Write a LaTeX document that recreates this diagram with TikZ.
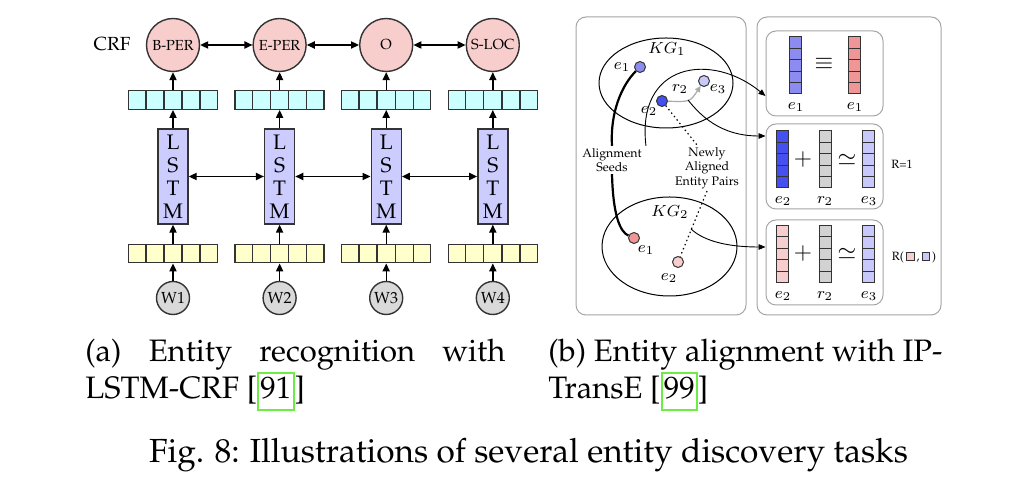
\documentclass[tikz,border=0pt]{standalone}
\usepackage[T1]{fontenc}
\renewcommand{\rmdefault}{ppl}
\usetikzlibrary{arrows.meta,calc,shapes.geometric}
\definecolor{crfpink}{RGB}{248,206,204}
\definecolor{hcyan}{RGB}{204,255,255}
\definecolor{lstmblue}{RGB}{204,204,255}
\definecolor{embyellow}{RGB}{255,255,204}
\definecolor{wgray}{RGB}{217,217,217}
\definecolor{edgegray}{RGB}{51,51,51}
\definecolor{panelgray}{RGB}{165,165,165}
\definecolor{eonebl}{RGB}{140,140,240}
\definecolor{etwobl}{RGB}{70,80,240}
\definecolor{ethreebl}{RGB}{200,200,250}
\definecolor{eonered}{RGB}{240,150,150}
\definecolor{etwopink}{RGB}{248,205,205}
\definecolor{relgray}{RGB}{210,210,210}
\definecolor{arrgray}{RGB}{170,170,170}
\definecolor{linkgreen}{RGB}{110,235,70}
\newcommand\hvec[4]{%
  \node[hvecst, fill=#4] (#1) at (#2,#3) {};
  \foreach \k in {1,...,4}{\draw[cellline] ($(#1.north west)!\k/5!(#1.north east)$) -- ($(#1.south west)!\k/5!(#1.south east)$);}
}
\newcommand\vvec[4]{%
  \node[vvecst, fill=#4] (#1) at (#2,#3) {};
  \foreach \k in {1,...,4}{\draw[vcell] ($(#1.north west)!\k/5!(#1.south west)$) -- ($(#1.north east)!\k/5!(#1.south east)$);}
}
\newcommand\linkbox[1]{{\setlength\fboxsep{0pt}\setlength\fboxrule{1pt}\fcolorbox{linkgreen}{white}{\hspace{0.6pt}\rule[-5pt]{0pt}{17.5pt}#1\hspace{0.6pt}}}}
\newcommand\minibox[1]{{\setlength\fboxsep{0pt}\setlength\fboxrule{0.4pt}\fcolorbox{edgegray}{#1}{\rule{0pt}{3.5pt}\hspace{3.5pt}}}}
\begin{document}
\begin{tikzpicture}[x=0.5pt,y=-0.5pt,
  crf/.style={circle, draw=edgegray, line width=0.7pt, fill=crfpink, minimum size=26.5pt, inner sep=0pt, font=\fontsize{7.3}{8}\selectfont},
  wnode/.style={circle, draw=edgegray, line width=0.7pt, fill=wgray, minimum size=16.5pt, inner sep=0pt, font=\fontsize{8}{9}\selectfont},
  lstm/.style={rectangle, draw=edgegray, line width=0.7pt, fill=lstmblue, minimum width=15pt, minimum height=47.5pt, inner sep=0pt, align=center, font=\fontsize{10.5}{11.5}\selectfont},
  hvecst/.style={rectangle, draw=edgegray, line width=0.7pt, minimum width=44.5pt, minimum height=9.25pt, inner sep=0pt},
  vvecst/.style={rectangle, draw=edgegray, line width=0.5pt, minimum width=6pt, minimum height=28.5pt, inner sep=0pt},
  cellline/.style={draw=edgegray, line width=0.7pt},
  vcell/.style={draw=edgegray, line width=0.5pt},
  arr/.style={-{Triangle[length=4pt,width=3.6pt]}, line width=0.7pt},
  dbl/.style={{Triangle[length=4pt,width=3.6pt]}-{Triangle[length=4pt,width=3.6pt]}, line width=0.7pt},
  panel/.style={rectangle, rounded corners=5pt, draw=panelgray, line width=0.5pt, inner sep=0pt},
  ibox/.style={panel, minimum width=58.5pt, minimum height=42.5pt},
  ent/.style={circle, draw=edgegray, line width=0.5pt, minimum size=5.5pt, inner sep=0pt},
  mlab/.style={inner sep=0pt, font=\fontsize{8.5}{9}\selectfont},
  kglab/.style={inner sep=0pt, font=\fontsize{8}{9}\selectfont},
  small/.style={inner sep=1pt, align=center, font=\fontsize{6.2}{7.2}\selectfont},
  rlab/.style={inner sep=0pt, font=\fontsize{6}{7}\selectfont},
  sym/.style={inner sep=0pt, font=\fontsize{12}{12}\selectfont},
  thinarr/.style={-{Triangle[length=3.5pt,width=2.8pt]}, line width=0.45pt},
  seedline/.style={line width=1.1pt},
  dotline/.style={line width=0.6pt, dash pattern=on 0.7pt off 1.5pt},
  relarr/.style={-{Triangle[length=3pt,width=2.8pt]}, draw=arrgray, line width=0.6pt},
  captext/.style={inner sep=0pt, font=\fontsize{15.5}{18}\selectfont}
]
\useasboundingbox (0,0) rectangle (1026,490);

% ---------- (a) LSTM-CRF ----------
\node[inner sep=0pt, font=\fontsize{9.5}{10}\selectfont] (crflab) at (112,44) {CRF};
\foreach \i/\x/\lab/\w in {1/173/B-PER/W1, 2/279.6/E-PER/W2, 3/386.2/O/W3, 4/492.8/S-LOC/W4}{
  \node[crf] (c\i) at (\x,45) {\lab};
  \hvec{h\i}{\x}{100}{hcyan}
  \node[lstm] (l\i) at (\x,176.5) {L\\S\\T\\M};
  \hvec{y\i}{\x}{253.5}{embyellow}
  \node[wnode] (w\i) at (\x,298) {\w};
  \draw[arr] (w\i) -- (y\i);
  \draw[arr] (y\i) -- (l\i);
  \draw[arr] (l\i) -- (h\i);
  \draw[arr] (h\i) -- (c\i);
}
\foreach \i/\j in {1/2,2/3,3/4}{
  \draw[dbl] (c\i) -- (c\j);
  \draw[dbl] (l\i) -- (l\j);
}

% ---------- (b) IPTransE ----------
\node[panel, minimum width=85pt, minimum height=149pt] (pleft) at (661,166) {};
\node[panel, minimum width=92pt, minimum height=149pt] (pright) at (849,166) {};
\node[ibox] (box1) at (824.5,73.5) {};
\node[ibox] (box2) at (824.5,166.5) {};
\node[ibox] (box3) at (824.5,262.5) {};

% box 1
\vvec{v11}{795.5}{65.5}{eonebl}
\vvec{v12}{854}{65.5}{eonered}
\node[sym] (eqv) at (824,64) {$\equiv$};
\node[mlab] (l11) at (796,107) {$e_1$};
\node[mlab] (l12) at (855,107) {$e_1$};
% box 2
\vvec{v21}{782.5}{159.5}{etwobl}
\vvec{v22}{825}{159.5}{relgray}
\vvec{v23}{868.5}{159.5}{ethreebl}
\node[sym] (pl2) at (803,160) {$+$};
\node[sym] (sim2) at (847,160) {$\simeq$};
\node[mlab] (l21) at (783,201) {$e_2$};
\node[mlab] (l22) at (825,201) {$r_2$};
\node[mlab] (l23) at (869,201) {$e_3$};
\node[rlab] (rone) at (902,164) {R=1};
% box 3
\vvec{v31}{782.5}{254}{etwopink}
\vvec{v32}{825}{254}{relgray}
\vvec{v33}{868.5}{254}{ethreebl}
\node[sym] (pl3) at (803,254) {$+$};
\node[sym] (sim3) at (847,254) {$\simeq$};
\node[mlab] (l31) at (783,296) {$e_2$};
\node[mlab] (l32) at (825,296) {$r_2$};
\node[mlab] (l33) at (869,296) {$e_3$};
\node[rlab] (rpair) at (914,257) {R(\,\minibox{etwopink}\,,\,\minibox{ethreebl}\,)};

% knowledge graphs
\node[ellipse, draw=black, line width=0.5pt, minimum width=67pt, minimum height=45pt, inner sep=0pt] (kg1) at (666,83) {};
\node[kglab] (kg1lab) at (667,49) {$KG_1$};
\node[ellipse, draw=black, line width=0.5pt, minimum width=67.5pt, minimum height=49.5pt, inner sep=0pt] (kg2) at (669.5,246.5) {};
\node[kglab] (kg2lab) at (670,212) {$KG_2$};

\node[ent, fill=eonebl] (ea) at (640,67) {};
\node[mlab] (eal) at (622,67) {$e_1$};
\node[ent, fill=etwobl] (eb) at (662,101) {};
\node[mlab] (ebl) at (649,111) {$e_2$};
\node[ent, fill=ethreebl] (ec) at (704,81) {};
\node[mlab] (ecl) at (718,89) {$e_3$};
\node[mlab] (rtwo) at (680,89) {$r_2$};
\node[ent, fill=eonered] (ed) at (634,238) {};
\node[mlab] (edl) at (646,250) {$e_1$};
\node[ent, fill=etwopink] (ee) at (678,262) {};
\node[mlab] (eel) at (669,278) {$e_2$};

\node[small] (seeds) at (612,160) {Alignment\\Seeds};
\node[small] (newly) at (707,168) {Newly\\Aligned\\Entity Pairs};

\coordinate (rmid) at (688,100);
\coordinate (kgout) at (691,229);

\draw[relarr] (eb) .. controls (690,102) .. (ec);
\draw[seedline] (ea) .. controls (622,85) and (610,112) .. (seeds.north);
\draw[seedline] (seeds.south) .. controls (613,215) and (620,232) .. (ed);
\draw[dotline] (eb) -- ([xshift=-5pt]newly.north);
\draw[dotline] (newly.south) -- (ee);

\draw[thinarr] ([xshift=1pt]seeds.north east) .. controls (636,62) and (712,52) .. ([yshift=-11.25pt]box1.west);
\draw[thinarr] (rmid) .. controls (700,115) and (720,136) .. ([yshift=15.25pt]box2.west);
\draw[thinarr] (kgout) .. controls (705,242) and (730,247) .. ([yshift=7.75pt]box3.west);

% ---------- captions ----------
\node[captext, anchor=base west] (capa1) at (85,362) {\makebox[210pt][s]{(a) Entity recognition with}};
\node[captext, anchor=base west] (capa2) at (85,399) {LSTM-CRF [\linkbox{91}]};
\node[captext, anchor=base west] (capb1) at (548,362) {(b) Entity alignment with IP-};
\node[captext, anchor=base west] (capb2) at (548,399) {TransE [\linkbox{99}]};
\node[captext, anchor=base, font=\fontsize{16.7}{19}\selectfont] (figcap) at (528.5,463) {Fig. 8: Illustrations of several entity discovery tasks};
\end{tikzpicture}
\end{document}
